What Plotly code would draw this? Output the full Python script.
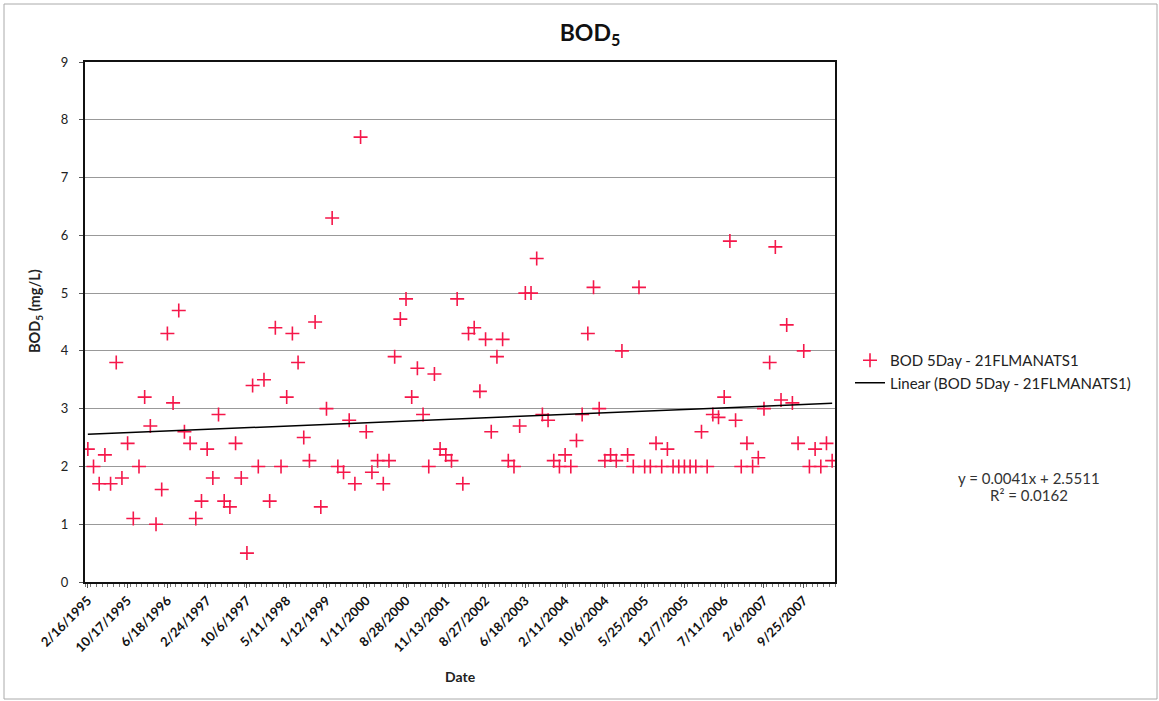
import numpy as np
import plotly.graph_objects as go

# Tick labels shown on the category (date) axis, every 7th sample
tick_dates = ["2/16/1995", "10/17/1995", "6/18/1996", "2/24/1997", "10/6/1997",
              "5/11/1998", "1/12/1999", "1/11/2000", "8/28/2000", "11/13/2001",
              "8/27/2002", "6/18/2003", "2/11/2004", "10/6/2004", "5/25/2005",
              "12/7/2005", "7/11/2006", "2/6/2007", "9/25/2007"]
tick_step = 7

# BOD5 values (mg/L), one per sample, in date order
bod5 = [2.3, 2.0, 1.7, 2.2, 1.7, 3.8, 1.8, 2.4, 1.1, 2.0,
        3.2, 2.7, 1.0, 1.6, 4.3, 3.1, 4.7, 2.6, 2.4, 1.1,
        1.4, 2.3, 1.8, 2.9, 1.4, 1.3, 2.4, 1.8, 0.5, 3.4,
        2.0, 3.5, 1.4, 4.4, 2.0, 3.2, 4.3, 3.8, 2.5, 2.1,
        4.5, 1.3, 3.0, 6.3, 2.0, 1.9, 2.8, 1.7, 7.7, 2.6,
        1.9, 2.1, 1.7, 2.1, 3.9, 4.55, 4.9, 3.2, 3.7, 2.9,
        2.0, 3.6, 2.3, 2.2, 2.1, 4.9, 1.7, 4.3, 4.4, 3.3,
        4.2, 2.6, 3.9, 4.2, 2.1, 2.0, 2.7, 5.0, 5.0, 5.6,
        2.9, 2.8, 2.1, 2.0, 2.2, 2.0, 2.45, 2.9, 4.3, 5.1,
        3.0, 2.1, 2.2, 2.1, 4.0, 2.2, 2.0, 5.1, 2.0, 2.0,
        2.4, 2.0, 2.3, 2.0, 2.0, 2.0, 2.0, 2.0, 2.6, 2.0,
        2.9, 2.85, 3.2, 5.9, 2.8, 2.0, 2.4, 2.0, 2.15, 3.0,
        3.8, 5.8, 3.15, 4.45, 3.1, 2.4, 4.0, 2.0, 2.3, 2.0,
        2.4, 2.1]

# Linear trendline as reported on the chart (x = 1..n)
trend_slope = 0.0041
trend_intercept = 2.5511
r_squared = 0.0162

series_name = "BOD 5Day - 21FLMANATS1"
n = len(bod5)
idx = np.arange(n)
trend = trend_slope * (idx + 1) + trend_intercept

W, H = 1159, 701
L, R, T, B = 85, 835, 62, 582
pw, ph = R - L, B - T

def px(x):
    return (x - L) / pw

def py(y):
    return (B - y) / ph

FONT = "Lato, 'Open Sans', Arial, sans-serif"
red = "#f5174a"

fig = go.Figure()
fig.add_trace(go.Scatter(
    x=idx, y=bod5, mode="markers", name=series_name,
    marker=dict(symbol="cross-thin", size=10, color=red,
                line=dict(color=red, width=1.6)),
))
fig.add_trace(go.Scatter(
    x=idx, y=trend, mode="lines", name="Linear (" + series_name + ")",
    line=dict(color="black", width=1.5),
))

tickvals = [i * tick_step for i in range(len(tick_dates))]

fig.update_layout(
    width=W, height=H,
    margin=dict(l=L, r=W - R, t=T, b=H - B),
    paper_bgcolor="white", plot_bgcolor="white",
    font=dict(family=FONT, size=12, color="#222"),
    title=dict(text="<b>BOD<sub>5</sub></b>", x=590 / W, xanchor="center",
               y=1 - 33 / H, yanchor="middle",
               font=dict(family=FONT, size=23, color="#111")),
    showlegend=True,
    legend=dict(x=px(850), y=py(344), xanchor="left", yanchor="top",
                font=dict(family=FONT, size=15, color="#222"),
                bgcolor="rgba(0,0,0,0)", tracegroupgap=2, itemwidth=30),
    xaxis=dict(range=[-0.5, n - 0.5], tickmode="array", tickvals=tickvals,
               ticktext=["<b>" + d + "</b>" for d in tick_dates],
               tickangle=-45, tickfont=dict(family=FONT, size=13, color="#111"),
               showgrid=False, zeroline=False,
               showline=True, linecolor="#111", linewidth=2, mirror=True,
               ticks="outside", ticklen=4, tickcolor="#555",
               minor=dict(ticks="outside", tickvals=list(np.arange(n + 1) - 0.5),
                          ticklen=3, tickcolor="#777")),
    yaxis=dict(range=[0, 9], dtick=1, tick0=0,
               showgrid=True, gridcolor="#999", gridwidth=1,
               zeroline=False, showline=True, linecolor="#111", linewidth=2,
               mirror=True, ticks="outside", ticklen=4, tickcolor="#555",
               ticklabelstandoff=8,
               tickfont=dict(family=FONT, size=13, color="#222")),
    annotations=[
        dict(text="<b>BOD<sub>5</sub> (mg/L)</b>", xref="paper", yref="paper",
             x=px(35), y=py(311), textangle=-90, showarrow=False,
             xanchor="center", yanchor="middle",
             font=dict(family=FONT, size=14.5, color="#222")),
        dict(text="<b>Date</b>", xref="paper", yref="paper",
             x=px(460), y=py(676), showarrow=False,
             xanchor="center", yanchor="middle",
             font=dict(family=FONT, size=14, color="#222")),
        dict(text="y = %.4fx + %.4f" % (trend_slope, trend_intercept),
             xref="paper", yref="paper", x=px(1029), y=py(478), showarrow=False,
             xanchor="center", yanchor="middle",
             font=dict(family=FONT, size=15, color="#333")),
        dict(text="R² = %.4f" % r_squared,
             xref="paper", yref="paper", x=px(1029), y=py(495), showarrow=False,
             xanchor="center", yanchor="middle",
             font=dict(family=FONT, size=15, color="#333")),
    ],
    shapes=[
        dict(type="rect", xref="paper", yref="paper",
             x0=px(4), x1=px(1157), y0=py(699), y1=py(4),
             line=dict(color="#aaa", width=1), fillcolor="rgba(0,0,0,0)",
             layer="below"),
    ],
)

fig.write_html("out.html", config={"displayModeBar": False},
               post_script="document.body.style.margin='0px';")
